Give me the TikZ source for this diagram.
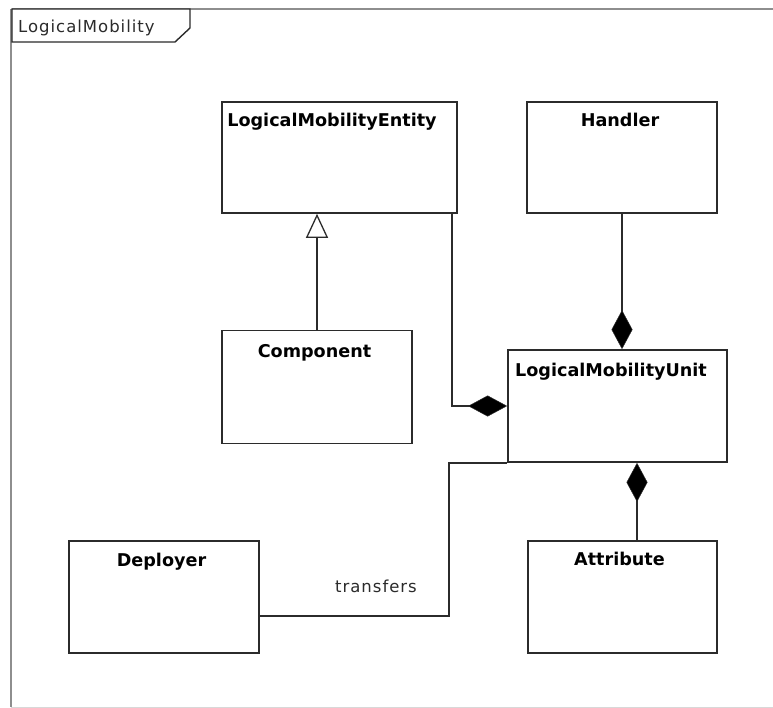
\documentclass[tikz,border=0pt]{standalone}
\usepackage{fontspec}
\setmainfont{DejaVu Sans}
\newfontfamily\lblfont[LetterSpace=6]{DejaVu Sans}
\usetikzlibrary{arrows.meta}
\definecolor{linec}{HTML}{2B2B2B}
\definecolor{framec}{HTML}{8E8E8E}
\definecolor{framelt}{HTML}{D8D8D8}
\begin{document}
\begin{tikzpicture}[x=1pt,y=-1pt,
  cls/.style={draw=linec, line width=1.7pt, fill=white, inner sep=0pt, rectangle},
  ttl/.style={font=\fontsize{17.6}{20}\selectfont\bfseries, anchor=base, inner sep=0pt, text=black},
  conn/.style={draw=linec, line width=1.5pt},
  compo/.style={conn, -{Diamond[length=39pt,width=21pt,fill=black,line width=0.5pt]}},
  gen/.style={conn, -{Triangle[open,length=24pt,width=22pt,fill=white,line width=1.3pt]}},
  lbl/.style={font=\lblfont\fontsize{16.5}{20}\selectfont, inner sep=0pt, text=linec}]
\useasboundingbox (0,0) rectangle (773,708);
\fill[white] (0,0) rectangle (773,708);
% frame
\draw[framec, line width=1.3pt] (12,9) -- (773,9);
\draw[framec, line width=1.3pt] (11,9) -- (11,707);
\draw[framelt, line width=1pt] (11,707) -- (773,707);
\draw[linec, line width=1.4pt, fill=white] (12,9) -- (190,9) -- (190,28) -- (175,42) -- (12,42) -- cycle;
\node[lbl, anchor=base west] (frameT) at (18,33) {LogicalMobility};
% classes
\node[cls, minimum width=235pt, minimum height=111pt] (lme) at (339.5,157.5) {};
\node[ttl] (lmeT) at (332,127) {LogicalMobilityEntity};
\node[cls, minimum width=190pt, minimum height=111pt] (hdl) at (622,157.5) {};
\node[ttl] (hdlT) at (620,127) {Handler};
\node[cls, minimum width=190pt, minimum height=113pt] (cmp) at (317,387) {};
\node[ttl] (cmpT) at (314.5,357) {Component};
\node[cls, minimum width=219pt, minimum height=112pt] (lmu) at (617.5,406) {};
\node[ttl] (lmuT) at (611,376) {LogicalMobilityUnit};
\node[cls, minimum width=190pt, minimum height=112pt] (dep) at (164,597) {};
\node[ttl] (depT) at (161.5,566) {Deployer};
\node[cls, minimum width=189pt, minimum height=112pt] (att) at (622.5,597) {};
\node[ttl] (attT) at (619.5,565) {Attribute};
% connectors
\draw[gen] (cmp.north) -- (cmp.north |- lme.south);
\draw[compo] ([xshift=-6pt]lme.south east) |- (lmu.west);
\draw[compo] (hdl.south) -- (hdl.south |- lmu.north);
\draw[compo] ([xshift=14.5pt]att.north) -- ([xshift=14.5pt]att.north |- lmu.south);
\draw[conn] (lmu.south west) -- ++(-58,0) |- ([yshift=-19pt]dep.east);
\node[lbl, anchor=base] (trT) at (376,592) {transfers};
\end{tikzpicture}
\end{document}
